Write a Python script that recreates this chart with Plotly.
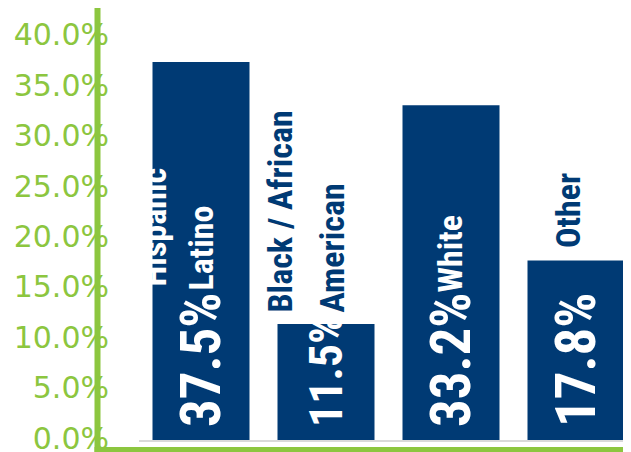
import plotly.graph_objects as go

# ---- data ----
categories = ["Hispanic / Latino", "Black / African American", "White", "Other"]
values = [37.5, 11.5, 33.2, 17.8]
label_lines = [["Hispanic", "Latino"], ["Black / African", "American"], ["White"], ["Other"]]
tick_values = [0, 5, 10, 15, 20, 25, 30, 35, 40]

# ---- style ----
NAVY = "#003A74"
GREEN = "#8CC63F"
OFF = 8                      # default body margin of the html page
W, H = 631 - OFF, 452 - OFF
ML, MR, MT, MB = 139 - OFF, 0, 0, 12
VAL_FONT = "Roboto Condensed, Noto Sans Condensed, Arial Narrow, DejaVu Sans Condensed, sans-serif"
value_sizes = [55, 46, 55, 55]

# label placement (pixel offsets from bar centre / baseline) and colours
label_style = [
    [dict(dx=-48, dy=151, color="white"), dict(dx=-1, dy=147, color="white")],
    [dict(dx=-46.5, dy=125, color=NAVY), dict(dx=5, dy=125, color=NAVY)],
    [dict(dx=-2, dy=145, color="white")],
    [dict(dx=-8.5, dy=190, color=NAVY)],
]

fig = go.Figure()
fig.add_trace(go.Bar(
    x=categories, y=values, marker=dict(color=NAVY, line=dict(width=0)),
    width=0.776, hoverinfo="skip",
))

# value labels
for c, v, fs in zip(categories, values, value_sizes):
    fig.add_annotation(
        x=c, y=0, xref="x", yref="y", text=f"{v:.1f}%", showarrow=False,
        textangle=-90, xanchor="center", yanchor="bottom", xshift=0, yshift=11,
        font=dict(family=VAL_FONT, size=fs, color="white", weight="bold"),
    )

# category labels
for c, lines, styles in zip(categories, label_lines, label_style):
    for t, s in zip(lines, styles):
        fig.add_annotation(
            x=c, y=0, xref="x", yref="y", text=t, showarrow=False,
            textangle=-90, xanchor="center", yanchor="bottom",
            xshift=s["dx"], yshift=s["dy"],
            font=dict(family=VAL_FONT, size=34, color=s["color"], weight="bold"),
        )

plot_w = W - ML - MR
plot_h = H - MT - MB
px_per_unit = 10.08
y_top = plot_h / px_per_unit
x_unit = 125.0
x0 = -62.0 / x_unit
x1 = x0 + plot_w / x_unit

def px_to_paper_x(px):          # px = position in the 631x452 window
    return (px - OFF - ML) / plot_w

def px_to_paper_y(py):
    return (H - MB - (py - OFF)) / plot_h

# green decorative axis lines
fig.add_shape(type="line", xref="paper", yref="paper",
              x0=px_to_paper_x(97.5), x1=px_to_paper_x(97.5),
              y0=px_to_paper_y(4), y1=px_to_paper_y(452),
              line=dict(color=GREEN, width=6), layer="above")
fig.add_shape(type="line", xref="paper", yref="paper",
              x0=px_to_paper_x(94.5), x1=px_to_paper_x(640),
              y0=px_to_paper_y(449.5), y1=px_to_paper_y(449.5),
              line=dict(color=GREEN, width=5), layer="above")

fig.update_layout(
    width=W, height=H,
    margin=dict(l=ML, r=MR, t=MT, b=MB, pad=0),
    paper_bgcolor="white", plot_bgcolor="white",
    showlegend=False,
    xaxis=dict(type="category", range=[x0, x1], showticklabels=False,
               showgrid=False, zeroline=False, showline=True,
               linecolor="#D9D9D9", linewidth=2, ticks=""),
    yaxis=dict(range=[0, y_top], tickvals=tick_values,
               ticktext=[f"{t:.1f}%" for t in tick_values],
               showgrid=False, zeroline=False, showline=False, ticks="",
               tickfont=dict(family="DejaVu Sans", size=30, color=GREEN),
               ticklabelstandoff=29, ticklabelshift=-2,
               ticklabeloverflow="allow", automargin=False),
)

fig.write_html("out.html")
